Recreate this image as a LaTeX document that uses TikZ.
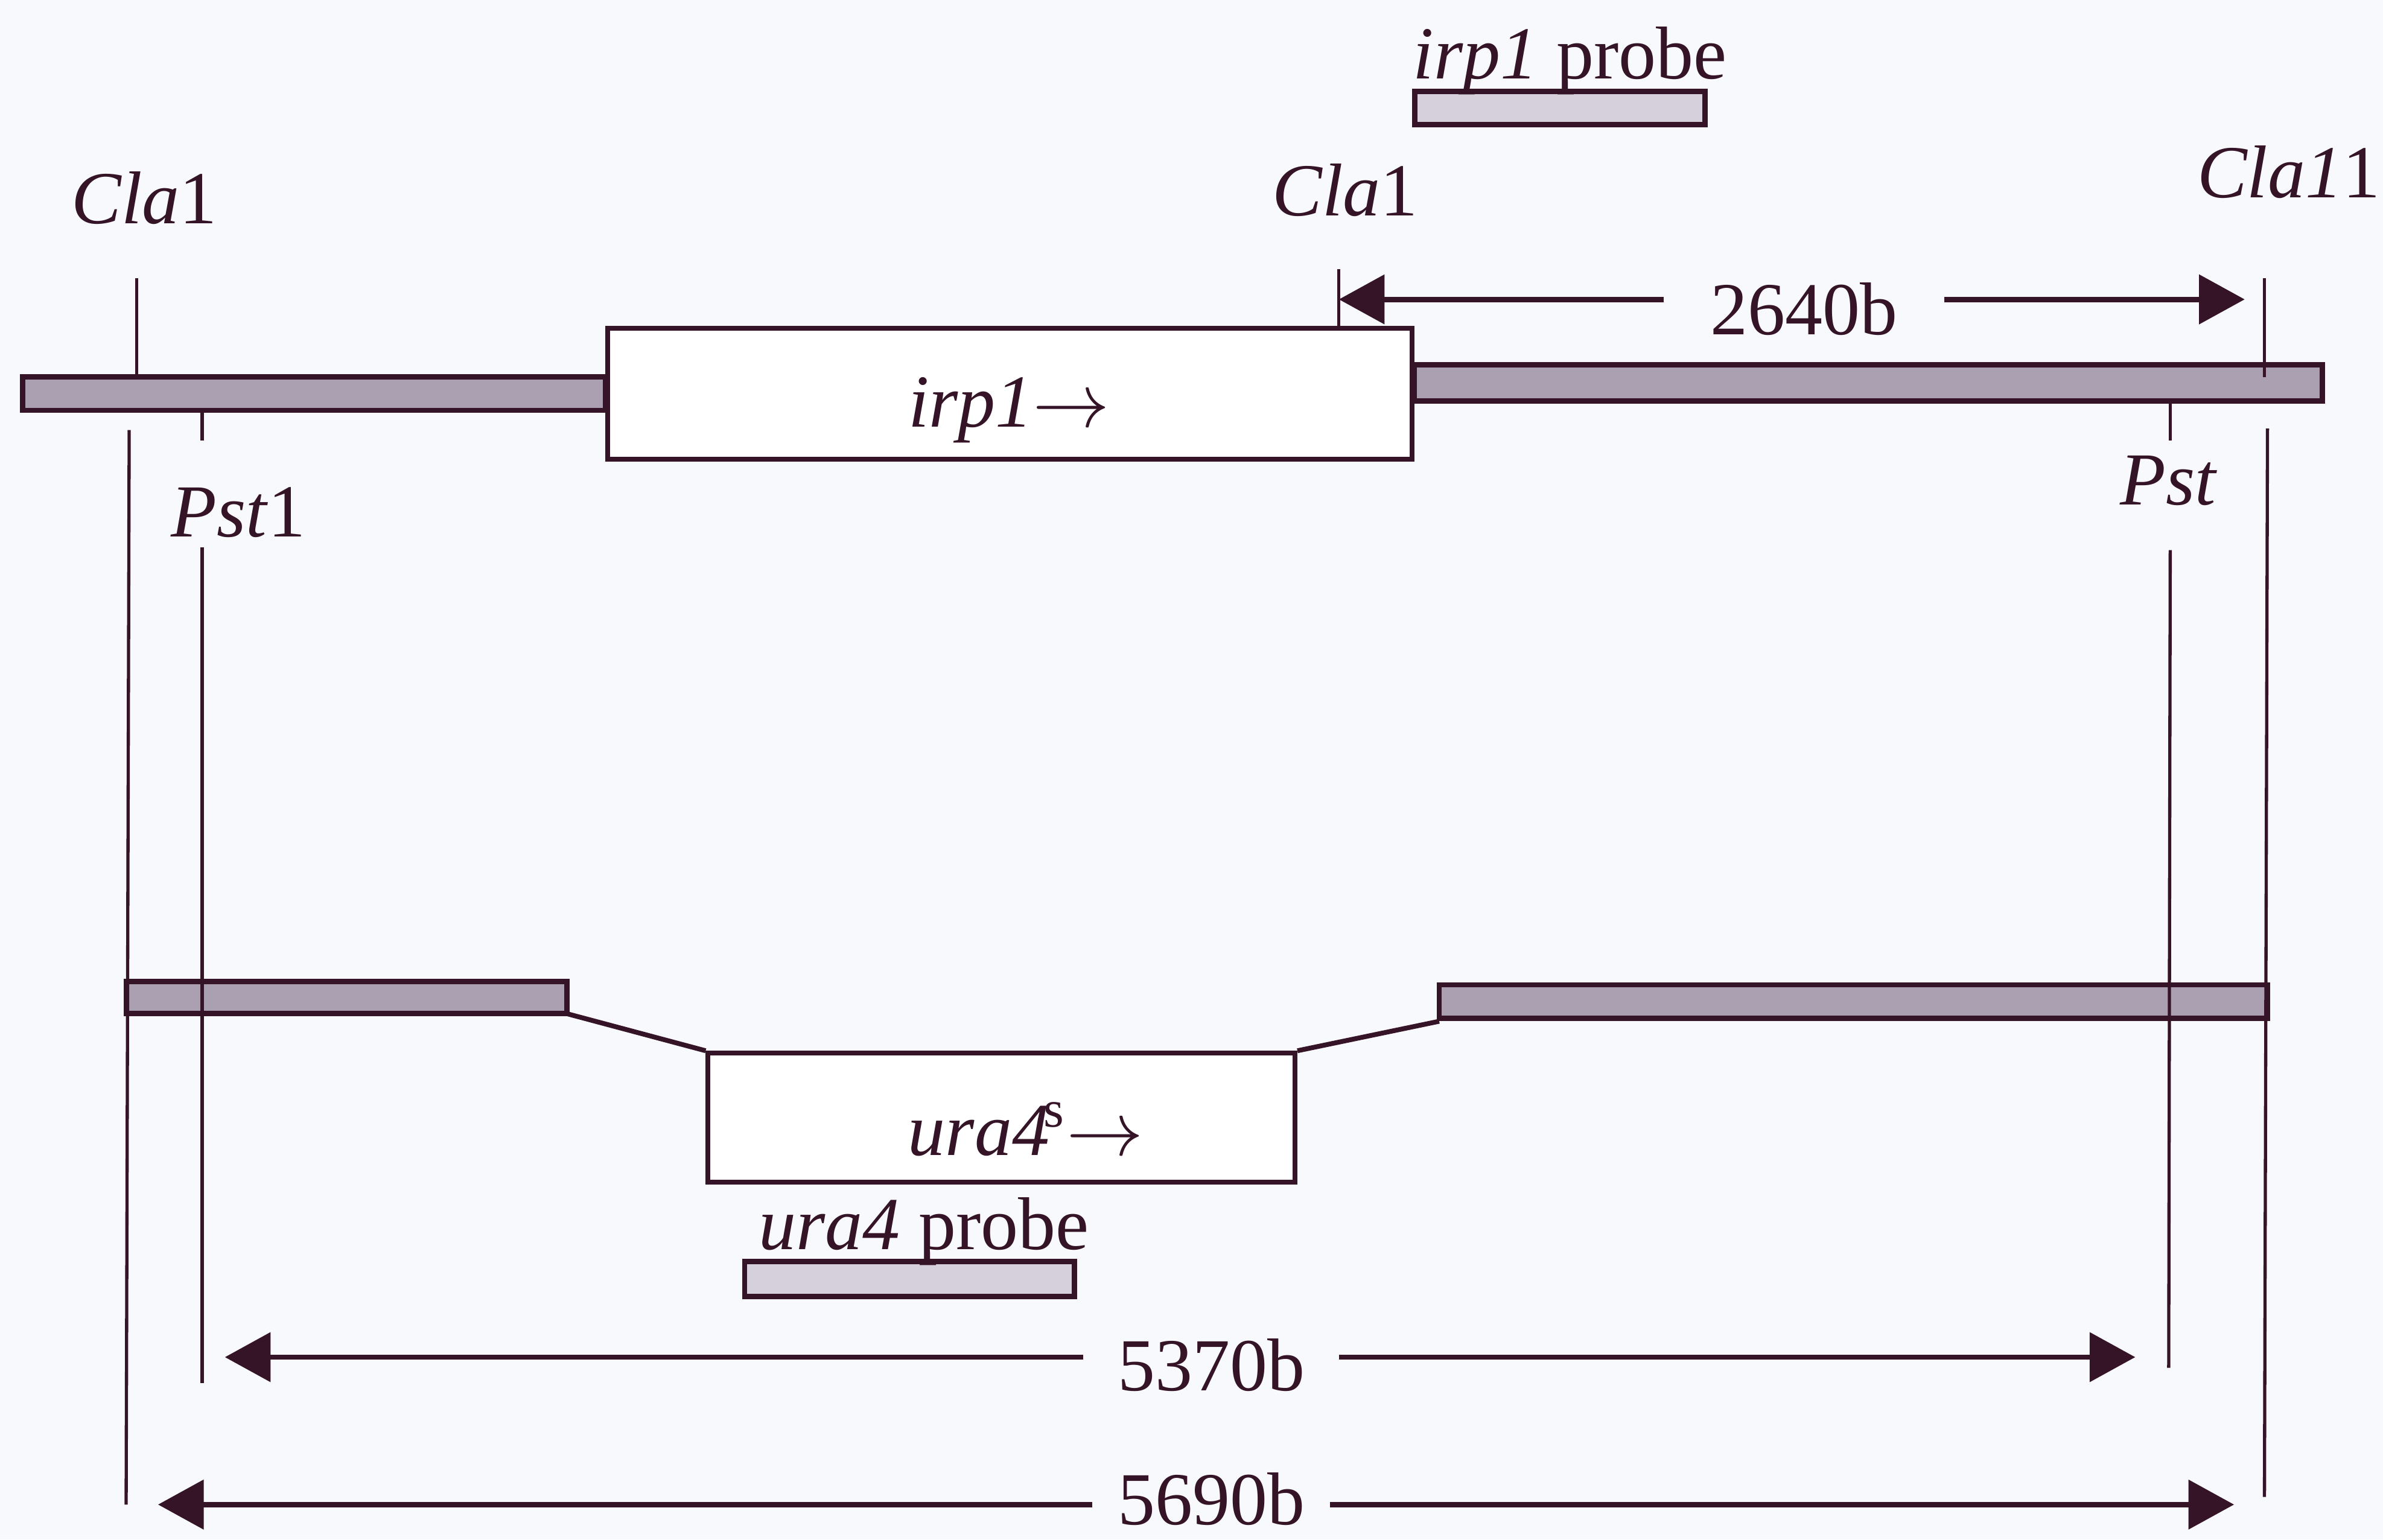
\documentclass[tikz,border=0pt]{standalone}
\usepackage{fontspec}
\setmainfont{Liberation Serif}
\usetikzlibrary{arrows.meta, positioning}

\definecolor{ink}{RGB}{52,20,38}
\definecolor{paper}{RGB}{248,249,253}
\definecolor{dnabar}{RGB}{170,160,178}
\definecolor{probefill}{RGB}{214,208,220}

\tikzset{
  bar/.style={draw=ink, fill=dnabar, line width=1pt},
  probebar/.style={draw=ink, fill=probefill, line width=1pt},
  genebox/.style={draw=ink, fill=white, line width=0.9pt, inner sep=0pt},
  site/.style={draw=ink, line width=0.6pt},
  dimline/.style={draw=ink, line width=1pt, -{Triangle[length=3mm, width=3.2mm]}},
  lbl/.style={text=ink, inner sep=0pt, anchor=base, font=\fontsize{14}{17}\selectfont},
  dimlbl/.style={lbl, inner xsep=2.2mm},
}

\begin{document}
\begin{tikzpicture}[x=0.01cm, y=-0.01cm]
  \useasboundingbox[fill=paper] (0,0) rectangle (1568,1013);

  % wild type irp1 locus
  \node[genebox, minimum width=5.29cm, minimum height=0.86cm] (irp) at (664.5,259) {};
  \draw[bar] (15,248) rectangle (irp.west |- 0,270);
  \draw[bar] (irp.east |- 0,240) rectangle (1528,264);
  \node[lbl] (irplbl) at (664,281) {\textit{irp1}$\rightarrow$};

  \draw[probebar] (931,60) rectangle (1122,82);
  \node[lbl] (irpprobe) at (1033,52) {\textit{irp1} probe};

  % disrupted locus
  \node[genebox, minimum width=3.86cm, minimum height=0.85cm] (ura) at (659,735.5) {};
  \draw[bar] (83,646) rectangle (373,667);
  \draw[bar] (947,648) rectangle (1492,670);
  \draw[ink, line width=0.9pt] (373,667) -- (ura.north west);
  \draw[ink, line width=0.9pt] (ura.north east) -- (947,672);
  \node[lbl] (uralbl) at (675,760) {\textit{ura4}\kern-0.08em\textsuperscript{s}$\rightarrow$};

  \draw[probebar] (490,830) rectangle (707,853);
  \node[lbl] (uraprobe) at (608,822) {\textit{ura4} probe};

  % restriction sites
  \node[lbl] (claA) at (95,147) {\textit{Cla}1};
  \node[lbl] (claB) at (885,142) {\textit{Cla}1};
  \node[lbl] (claC) at (1506,130) {\textit{Cla1}1};
  \node[lbl] (pstA) at (157,353) {\textit{Pst}1};
  \node[lbl] (pstB) at (1427,332) {\textit{Pst}};

  \draw[site] (90,183) -- (90,248);
  \draw[site] (85,283) -- (83,990);
  \draw[site] (133,270) -- (133,290);
  \draw[site] (133,360) -- (133,910);
  \draw[site] (881,177) -- (881,216);
  \draw[site] (1490,183) -- (1490,248);
  \draw[site] (1492,282) -- (1490,985);
  \draw[site] (1428,264) -- (1428,290);
  \draw[site] (1428,362) -- (1427,900);

  % fragment sizes
  \coordinate (d1l) at (881,197);
  \coordinate (d1r) at (1477,197);
  \node[dimlbl, inner xsep=3mm] (d1) at (1187,220) {2640b};
  \draw[dimline] (d1.west |- d1l) -- (d1l);
  \draw[dimline] (d1.east |- d1r) -- (d1r);

  \coordinate (d2l) at (148,893);
  \coordinate (d2r) at (1405,893);
  \node[dimlbl] (d2) at (797,915) {5370b};
  \draw[dimline] (d2.west |- d2l) -- (d2l);
  \draw[dimline] (d2.east |- d2r) -- (d2r);

  \coordinate (d3l) at (104,990);
  \coordinate (d3r) at (1470,990);
  \node[dimlbl, inner xsep=1.6mm] (d3) at (797,1003) {5690b};
  \draw[dimline] (d3.west |- d3l) -- (d3l);
  \draw[dimline] (d3.east |- d3r) -- (d3r);
\end{tikzpicture}
\end{document}
